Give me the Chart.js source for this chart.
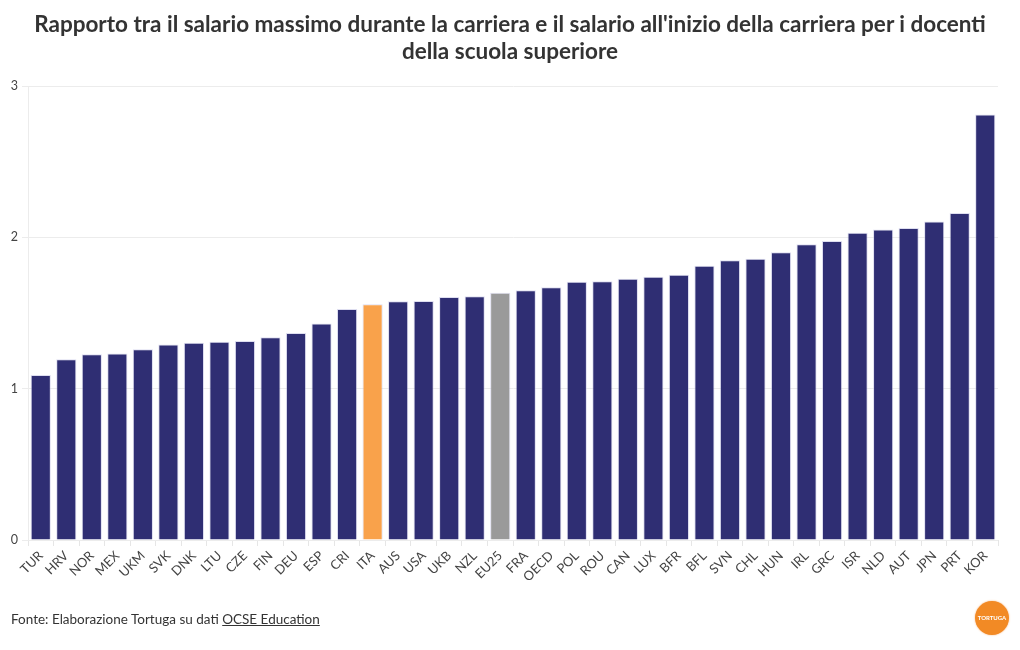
<!DOCTYPE html>
<html>
<head>
<meta charset="utf-8">
<script src="https://cdn.jsdelivr.net/npm/chart.js@4/dist/chart.umd.min.js"></script>
<style>
  body { margin:0; background:#fff; font-family: Lato, "Open Sans", sans-serif; }
  #wrap { position:relative; width:1020px; height:650px; }
  #title { position:absolute; top:10px; left:0; width:1020px; text-align:center; font-weight:bold; font-size:22.5px; line-height:27px; color:#333; }
  #chartBox { position:absolute; left:0; top:0; width:1020px; height:650px; }
  #src { position:absolute; left:11px; top:611px; font-size:13.5px; color:#333; }
  #src span { text-decoration:underline; }
  #logo { position:absolute; left:975px; top:601px; width:34px; height:34px; border-radius:50%; background:#f28a25; color:#fff; font-size:6px; font-weight:bold; text-align:center; line-height:34px; box-shadow:0 0 2px #f7b27a; }
</style>
</head>
<body>
<div id="wrap">
  <div id="chartBox"><canvas id="chart"></canvas></div>
  <div id="title">Rapporto tra il salario massimo durante la carriera e il salario all'inizio della carriera per i docenti<br>della scuola superiore</div>
  <div id="src">Fonte: Elaborazione Tortuga su dati <span>OCSE Education</span></div>
  <div id="logo">TORTUGA</div>
</div>
<script>
let countries = ['TUR','HRV','NOR','MEX','UKM','SVK','DNK','LTU','CZE','FIN','DEU','ESP','CRI','ITA','AUS','USA','UKB','NZL','EU25','FRA','OECD','POL','ROU','CAN','LUX','BFR','BFL','SVN','CHL','HUN','IRL','GRC','ISR','NLD','AUT','JPN','PRT','KOR'];
let ratio = [1.09,1.195,1.228,1.232,1.26,1.292,1.303,1.31,1.315,1.339,1.368,1.43,1.526,1.557,1.577,1.579,1.606,1.61,1.634,1.65,1.67,1.707,1.71,1.727,1.74,1.752,1.813,1.849,1.858,1.902,1.955,1.975,2.03,2.052,2.061,2.105,2.16,2.811];
let yTicks = [0,1,2,3];

let barColors = countries.map(c => c == 'ITA' ? '#f9a24b' : (c == 'EU25' ? '#9a9a9a' : '#2f2e73'));

let chartCanv = document.getElementById('chart').getContext("2d");

let chart = new Chart(chartCanv,{
  type:'bar',
  data:{
    labels:countries,
    datasets:[
      {
        label:'Rapporto',
        data:ratio,
        backgroundColor:barColors,
        borderColor:'rgba(190,190,225,0.5)',
        borderWidth:1,
        categoryPercentage:1,
        barPercentage:0.79
      }
    ]
  },
  options:{
    responsive:true,
    maintainAspectRatio:false,
    animation:false,
    layout:{ padding:{ top:86, right:22, left:0, bottom:0 } },
    plugins:{
      legend:{ display:false },
      tooltip:{ enabled:false }
    },
    scales:{
      x:{
        grid:{ drawOnChartArea:false, color:'#e6e6e6', tickLength:6 },
        border:{ display:false },
        ticks:{ color:'#444', font:{ family:'Lato', size:13 }, maxRotation:45, minRotation:45, autoSkip:false, padding:2 },
        afterFit: s => { s.height = 110; }
      },
      y:{
        min:0, max:3,
        afterBuildTicks: s => { s.ticks = yTicks.map(v => ({value:v})); },
        grid:{ color:'#ececec', tickLength:6 },
        border:{ color:'#ececec' },
        ticks:{ color:'#444', font:{ family:'Lato', size:12.5 }, padding:4 },
        afterFit: s => { s.width = 28; }
      }
    }
  }
})
</script>
</body>
</html>
